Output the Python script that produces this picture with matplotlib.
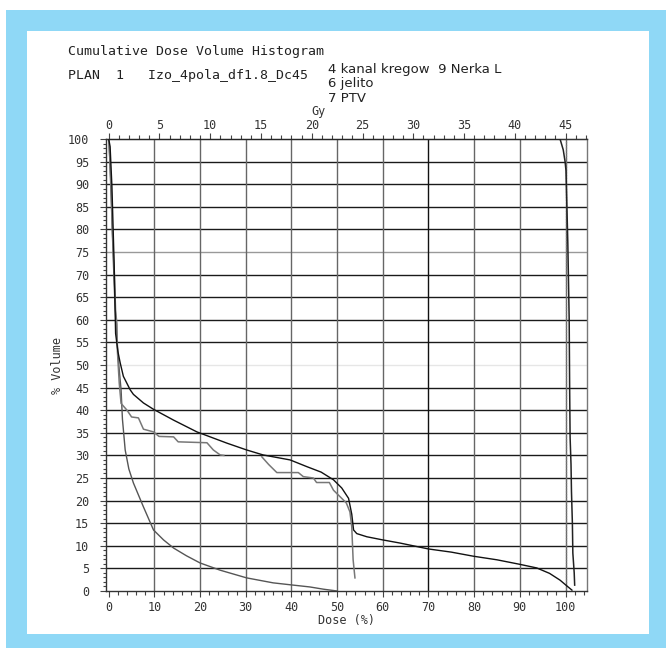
import numpy as np
import matplotlib
matplotlib.use("Agg")
import matplotlib.pyplot as plt
from matplotlib.patches import Rectangle
from matplotlib.ticker import MultipleLocator

# DVH curves: dose in % of prescription, volume in %
upper_dose = [0, 0.3, 0.7, 1.2, 1.5, 2.0, 2.5, 3.2, 4.7, 5.4, 7.6, 9.8, 14.2, 19.3, 25.9,
              30.2, 33.8, 39.7, 43.4, 46.5, 49.2, 51.0, 52.5, 53.2, 53.6, 54.3, 56.5, 60.0,
              63.8, 70.0, 75.0, 79.8, 85.0, 90.0, 93.7, 96.5, 98.8, 100.2, 101.4]
upper_vol = [100, 98.3, 89.4, 71.7, 57, 53, 50.5, 47.5, 44.5, 43.5, 41.6, 40.2, 37.8, 35.2, 32.7,
             31.2, 30.1, 29.0, 27.5, 26.3, 24.6, 22.8, 20.5, 17.0, 13.5, 12.7, 12.0, 11.3,
             10.6, 9.3, 8.6, 7.7, 6.9, 5.9, 5.1, 3.9, 2.4, 1.2, 0.2]

step_dose = [0.1, 0.5, 0.8, 1.0, 1.2, 1.4, 1.5, 1.8, 1.9, 2.3, 2.7, 4.0, 5.0, 6.5, 7.6,
             9.8, 11.0, 14.2, 15.2, 21.5, 22.9, 24.4, 25.2, np.nan, 33.5, 35.0, 36.8, 41.5,
             42.6, 44.8, 45.5, 48.3, 49.2, 50.6, 52.0, 52.8, 53.2, 53.5, 53.9]
step_vol = [99, 90, 80, 75, 71, 65, 62, 59, 53, 46, 41.5, 40.0, 38.5, 38.3, 35.8,
            35.2, 34.2, 34.1, 33.0, 32.8, 31.2, 30.1, 30.0, np.nan, 29.7, 28.0, 26.2, 26.2,
            25.3, 25.0, 24.0, 24.0, 22.3, 20.9, 19.5, 17.5, 14.2, 6.9, 2.9]

low_dose = [0, 0.2, 0.5, 0.9, 1.3, 1.7, 2.2, 2.7, 3.0, 3.6, 4.4, 5.4, 7.6, 9.8, 12.0,
            14.2, 17.0, 20.0, 24.4, 30.2, 36.0, 40.4, 44.0, 47.0, 50.0]
low_vol = [100, 96, 88, 76, 65, 57, 50, 44.5, 38, 31.2, 27.0, 23.9, 18.6, 13.5, 11.3,
           9.5, 7.8, 6.2, 4.6, 2.9, 1.8, 1.3, 0.9, 0.4, 0]

ptv_dose = [0, 50, 95, 98.8, 99.5, 99.9, 100.1, 100.5, 100.8, 100.9, 101.0, 101.2, 101.3,
            101.5, 101.6, 101.9, 102.0]
ptv_vol = [100, 100, 100, 100, 97.6, 95, 93, 77, 60, 45, 34, 28, 22, 15, 8.4, 4, 1.3]

gy_per_percent = 0.45   # 45 Gy = 100 %
x_ticks = list(range(0, 101, 10))
y_ticks = list(range(0, 101, 5))
gy_ticks = list(range(0, 46, 5))

mono = "DejaVu Sans Mono"
tcol = "#333333"

fig = plt.figure(figsize=(6.66, 6.48), dpi=100)
fig.patch.set_facecolor("white")
# light blue frame
fig.add_artist(Rectangle((6 / 666, 0), 1, 1 - 10 / 648, transform=fig.transFigure,
                         facecolor="#8fd8f6", edgecolor="none", zorder=0))
fig.add_artist(Rectangle((27 / 666, 14 / 648), (649 - 27) / 666, (634 - 31) / 648,
                         transform=fig.transFigure, facecolor="white", edgecolor="none", zorder=0))

ax = fig.add_axes([106 / 666, 1 - 591 / 648, (587 - 106) / 666, (591 - 139) / 648])
ax.set_facecolor("none")
ax.set_xlim(-0.6, 104.7)
ax.set_ylim(0, 100)

# grid
for y in y_ticks[1:-1]:
    c = "#1a1a1a"
    if y == 50:
        c = "#e6e6e6"
    elif y == 75:
        c = "#999999"
    ax.axhline(y, color=c, lw=1.0, zorder=1)
for x in x_ticks[1:]:
    ax.axvline(x, color="#111111" if x == 70 else "#666666", lw=1.0, zorder=1)

ax.axvline(100, color="#777777", lw=0.9, ls=(0, (1, 1.2)), zorder=2)

ax.plot(low_dose, low_vol, color="#555555", lw=1.0, zorder=3)
ax.plot(step_dose, step_vol, color="#777777", lw=1.1, zorder=3)
ax.plot(upper_dose, upper_vol, color="#111111", lw=1.0, zorder=4)
ax.plot(ptv_dose, ptv_vol, color="#222222", lw=1.1, zorder=4)

ax.set_xticks(x_ticks)
ax.set_yticks(y_ticks)
ax.xaxis.set_minor_locator(MultipleLocator(2))
ax.yaxis.set_minor_locator(MultipleLocator(1))
ax.tick_params(axis="both", which="both", direction="out", colors="#444444",
               labelcolor=tcol, labelsize=8.5, width=0.8)
ax.tick_params(axis="x", which="major", length=4, pad=3)
ax.tick_params(axis="x", which="minor", length=3)
ax.tick_params(axis="y", which="major", length=4, pad=8)
ax.tick_params(axis="y", which="minor", length=2)
for lab in ax.get_xticklabels() + ax.get_yticklabels():
    lab.set_family(mono)
for s in ax.spines.values():
    s.set_color("#333333")
    s.set_linewidth(1.0)
ax.spines["right"].set_color("#777777")

ax.set_xlabel("Dose (%)", family=mono, fontsize=8.5, color=tcol, labelpad=0)
ax.set_ylabel("% Volume", family=mono, fontsize=8.5, color=tcol, labelpad=3)

top = ax.secondary_xaxis("top", functions=(lambda d: d * gy_per_percent,
                                           lambda g: g / gy_per_percent))
top.set_xticks(gy_ticks)
top.xaxis.set_minor_locator(MultipleLocator(1))
top.tick_params(which="both", direction="out", colors="#444444", labelcolor=tcol,
                labelsize=8.5, width=0.8, pad=1)
top.tick_params(which="major", length=4)
top.tick_params(which="minor", length=3)
for lab in top.get_xticklabels():
    lab.set_family(mono)

fig.text(318 / 666, 1 - 112 / 648, "Gy", family=mono, fontsize=8.5, color=tcol,
         ha="center", va="center")

fig.text(68 / 666, 1 - 52 / 648, "Cumulative Dose Volume Histogram", family=mono,
         fontsize=9.5, color="#222222", ha="left", va="center")
fig.text(68 / 666, 1 - 75 / 648, "PLAN  1   Izo_4pola_df1.8_Dc45", family=mono,
         fontsize=9.5, color="#222222", ha="left", va="center")
fig.text(328 / 666, 1 - 69 / 648, "4 kanal kregow  9 Nerka L", fontsize=9.5,
         color="#222222", ha="left", va="center")
fig.text(328 / 666, 1 - 84 / 648, "6 jelito", fontsize=9.5, color="#222222",
         ha="left", va="center")
fig.text(328 / 666, 1 - 99 / 648, "7 PTV", fontsize=9.5, color="#222222",
         ha="left", va="center")

fig.savefig("out.png", dpi=100)
